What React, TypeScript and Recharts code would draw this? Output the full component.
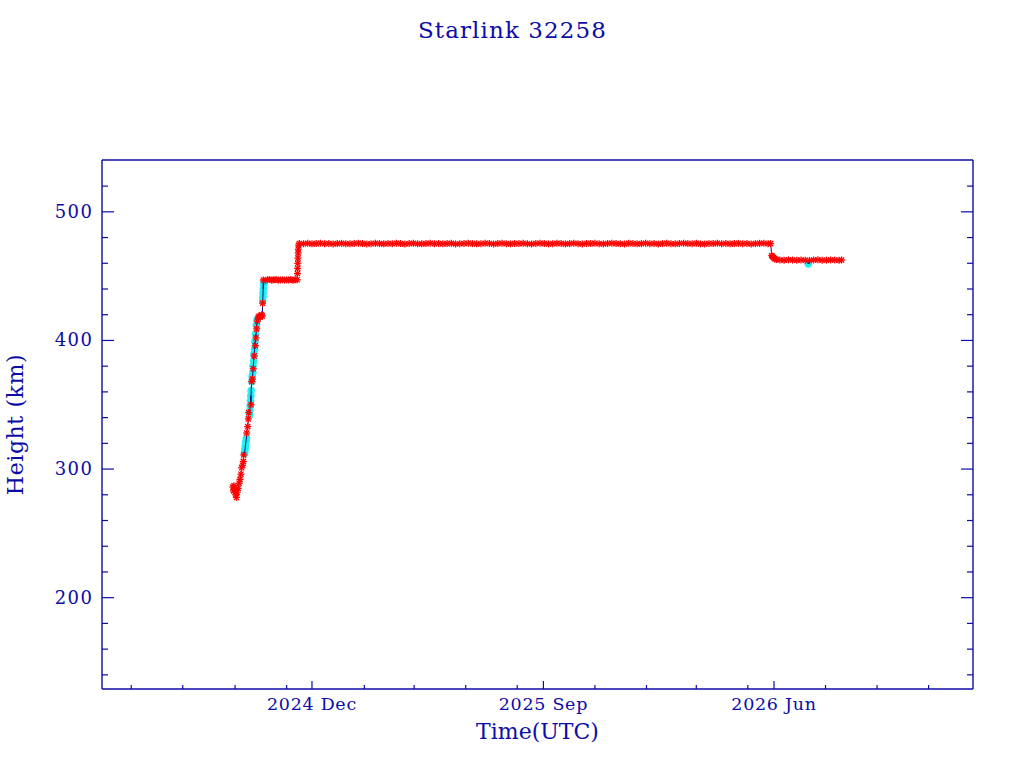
import { ScatterChart, Scatter, XAxis, YAxis } from 'recharts'

// days are counted from 2024-12-01 (UTC), heights in km
const raiseDay = [-93.6, -93.0, -92.4, -91.6, -90.4, -89.4, -88.6, -87.4, -86.3, -85.2, -84.1, -83.2, -82.2, -81.3, -80.8, -77.3, -76.1, -75.4, -75.0, -72.2, -71.4, -70.5, -69.5, -68.4, -67.1, -66.3, -65.5, -64.6, -63.6, -62.6, -61.6, -60.6, -59.6, -58.8, -58.4]
const raiseKm = [286, 283, 287, 284, 280, 278, 282, 285, 289, 292, 296, 301, 303, 306, 311, 328, 333, 339, 344, 350, 368, 370, 378, 388, 396, 402, 409, 415, 418, 419, 418, 419, 420, 419, 429]

const cyanDay = [-79.8, -79.6, -79.2, -78.8, -78.4, -78.0, -77.6, -73.8, -73.6, -73.2, -72.8, -72.4, -72.0, -71.0, -70.8, -70.1, -69.8, -69.0, -68.8, -68.0, -67.6, -66.8, -65.8, -65.2, -58.3, -58.1, -57.9, -57.6, -57.3, -57.0, 587.6]
const cyanKm = [312, 314, 316, 318, 320, 322, 324, 342, 345, 349, 353, 357, 361, 368, 372, 375, 380, 384, 389, 393, 399, 405, 412, 416, 431, 434, 437, 440, 443, 445, 459.5]

const shelfDay = [-57.6, -55.0, -52.5, -50.0, -47.5, -45.0, -42.5, -40.0, -37.5, -35.0, -32.5, -30.0, -27.5, -25.0, -22.5, -20.0, -17.6, -17.2, -17.0, -16.8, -16.6, -16.4, -16.2, -15.8]
const shelfKm = [447.0, 446.8, 447.2, 447.4, 446.9, 447.1, 447.3, 446.8, 447.0, 447.2, 446.9, 447.1, 447.0, 447.3, 446.8, 447.1, 447.2, 452, 456, 460, 464, 468, 471, 474]

const orbitDay = [
  -15, -10, -5, 0, 5, 10, 15, 20, 25, 30, 35, 40, 45, 50, 55, 60, 65, 70, 75, 80,
  85, 90, 95, 100, 105, 110, 115, 120, 125, 130, 135, 140, 145, 150, 155, 160, 165, 170, 175, 180,
  185, 190, 195, 200, 205, 210, 215, 220, 225, 230, 235, 240, 245, 250, 255, 260, 265, 270, 275, 280,
  285, 290, 295, 300, 305, 310, 315, 320, 325, 330, 335, 340, 345, 350, 355, 360, 365, 370, 375, 380,
  385, 390, 395, 400, 405, 410, 415, 420, 425, 430, 435, 440, 445, 450, 455, 460, 465, 470, 475, 480,
  485, 490, 495, 500, 505, 510, 515, 520, 525, 530, 535, 540, 543,
]
const orbitKm = [
  475.4, 475.2, 475.5, 475.1, 475.3, 475.6, 475.2, 475.4, 475.0, 475.3,
  475.5, 475.2, 475.1, 475.4, 475.6, 475.3, 475.0, 475.2, 475.5, 475.3,
  475.1, 475.4, 475.2, 475.6, 475.3, 475.0, 475.4, 475.5, 475.2, 475.1,
  475.3, 475.6, 475.2, 475.4, 475.1, 475.3, 475.5, 475.0, 475.2, 475.4,
  475.6, 475.3, 475.1, 475.2, 475.5, 475.4, 475.0, 475.3, 475.6, 475.2,
  475.1, 475.4, 475.3, 475.5, 475.2, 475.0, 475.4, 475.6, 475.3, 475.1,
  475.2, 475.5, 475.4, 475.1, 475.3, 475.6, 475.2, 475.0, 475.4, 475.3,
  475.5, 475.2, 475.1, 475.4, 475.6, 475.3, 475.2, 475.0, 475.5, 475.4,
  475.1, 475.3, 475.6, 475.2, 475.4, 475.0, 475.3, 475.5, 475.2, 475.1,
  475.4, 475.6, 475.3, 475.2, 475.5, 475.1, 475.0, 475.4, 475.3, 475.6,
  475.2, 475.4, 475.1, 475.3, 475.5, 475.2, 475.4, 475.0, 475.3, 475.5,
  475.6, 475.2, 475.3,
]

const lowerDay = [544.3, 545.2, 546.5, 548.0, 550.0, 554, 559, 564, 569, 574, 579, 584, 589, 594, 599, 604, 609, 614, 619, 624, 627]
const lowerKm = [466.0, 465.2, 464.3, 463.4, 462.9, 462.6, 462.4, 462.7, 462.5, 462.3, 462.6, 462.4, 462.2, 462.5, 462.7, 462.3, 462.4, 462.6, 462.5, 462.3, 462.6]

const xMajorDays = [0, 274, 547]
const xMajorLabels = ['2024 Dec', '2025 Sep', '2026 Jun']
const xMinorDays = [-214, -153, -91, -30, 62, 121, 182, 243, 335, 396, 455, 516, 608, 669, 730]
const yMajorKm = [200, 300, 400, 500]
const yMinorKm = [140, 160, 180, 220, 240, 260, 280, 320, 340, 360, 380, 420, 440, 460, 480, 520]

const X_DOMAIN = [-248.6, 782.6]
const Y_DOMAIN = [129, 540.3]
const BLUE = '#0c0ca6'
const FONT = '"DejaVu Serif", "Liberation Serif", serif'

const zip = (days: number[], kms: number[]) => days.map((d, i) => ({ d, h: kms[i] }))

const redPoints = [
  ...zip(raiseDay, raiseKm),
  ...zip(shelfDay, shelfKm),
  ...zip(orbitDay, orbitKm),
  ...zip(lowerDay, lowerKm),
]
const cyanPoints = zip(cyanDay, cyanKm)
const trackPoints = [...redPoints, ...cyanPoints].sort((a, b) => a.d - b.d)
const xTicks = [...xMajorDays, ...xMinorDays].sort((a, b) => a - b)
const yTicks = [...yMajorKm, ...yMinorKm].sort((a, b) => a - b)

function Star({ cx, cy, color, width, r = 3.5 }: any) {
  if (cx == null || cy == null) return null
  const k = r * 0.74
  return (
    <g stroke={color} strokeWidth={width}>
      <line x1={cx - r} y1={cy} x2={cx + r} y2={cy} />
      <line x1={cx} y1={cy - r} x2={cx} y2={cy + r} />
      <line x1={cx - k} y1={cy - k} x2={cx + k} y2={cy + k} />
      <line x1={cx - k} y1={cy + k} x2={cx + k} y2={cy - k} />
    </g>
  )
}

function BottomTick({ x, y, payload }: any) {
  const i = xMajorDays.indexOf(payload.value)
  const len = i >= 0 ? 8 : 4
  return (
    <g>
      <line x1={x} y1={y} x2={x} y2={y - len} stroke={BLUE} strokeWidth={1.2} />
      {i >= 0 && (
        <text x={x} y={y + 21} textAnchor="middle" fill={BLUE} fontSize={17.5} fontFamily={FONT} letterSpacing={0.7}>
          {xMajorLabels[i]}
        </text>
      )}
    </g>
  )
}

function TopTick({ x, y, payload }: any) {
  const len = xMajorDays.includes(payload.value) ? 8 : 4
  return <line x1={x} y1={y} x2={x} y2={y + len} stroke={BLUE} strokeWidth={1.2} />
}

function LeftTick({ x, y, payload }: any) {
  const major = yMajorKm.includes(payload.value)
  return (
    <g>
      <line x1={x} y1={y} x2={x + (major ? 12 : 6)} y2={y} stroke={BLUE} strokeWidth={1.2} />
      {major && (
        <text x={x - 8.5} y={y + 6} textAnchor="end" fill={BLUE} fontSize={18} fontFamily={FONT} letterSpacing={1.5}>
          {payload.value}
        </text>
      )}
    </g>
  )
}

function RightTick({ x, y, payload }: any) {
  const major = yMajorKm.includes(payload.value)
  return <line x1={x} y1={y} x2={x - (major ? 12 : 6)} y2={y} stroke={BLUE} strokeWidth={1.2} />
}

export default function App() {
  const axisLine = { stroke: BLUE, strokeWidth: 1.4 }
  return (
    <div style={{ position: 'absolute', left: 0, top: 0, width: 1024, height: 768, background: '#fff' }}>
      <ScatterChart width={1024} height={768} margin={{ top: 150, right: 41, bottom: 49, left: 42 }}>
        <XAxis
          xAxisId="b"
          dataKey="d"
          type="number"
          orientation="bottom"
          height={30}
          domain={X_DOMAIN}
          allowDataOverflow
          ticks={xTicks}
          interval={0}
          tickSize={0}
          tickMargin={0}
          tickLine={false}
          axisLine={axisLine}
          tick={(p: any) => <BottomTick {...p} />}
        />
        <XAxis
          xAxisId="t"
          type="number"
          orientation="top"
          height={10}
          domain={X_DOMAIN}
          allowDataOverflow
          ticks={xTicks}
          interval={0}
          tickSize={0}
          tickMargin={0}
          tickLine={false}
          axisLine={axisLine}
          tick={(p: any) => <TopTick {...p} />}
        />
        <YAxis
          yAxisId="l"
          dataKey="h"
          type="number"
          orientation="left"
          width={60}
          domain={Y_DOMAIN}
          allowDataOverflow
          ticks={yTicks}
          interval={0}
          tickSize={0}
          tickMargin={0}
          tickLine={false}
          axisLine={axisLine}
          tick={(p: any) => <LeftTick {...p} />}
        />
        <YAxis
          yAxisId="r"
          type="number"
          orientation="right"
          width={10}
          domain={Y_DOMAIN}
          allowDataOverflow
          ticks={yTicks}
          interval={0}
          tickSize={0}
          tickMargin={0}
          tickLine={false}
          axisLine={axisLine}
          tick={(p: any) => <RightTick {...p} />}
        />
        <Scatter
          xAxisId="b"
          yAxisId="l"
          data={cyanPoints}
          isAnimationActive={false}
          shape={(p: any) => <Star cx={p.cx} cy={p.cy} color="#22eeee" width={2.4} r={3.8} />}
        />
        <Scatter
          xAxisId="b"
          yAxisId="l"
          data={trackPoints}
          isAnimationActive={false}
          line={{ stroke: '#101080', strokeWidth: 1 }}
          lineType="joint"
          shape={() => <g />}
        />
        <Scatter
          xAxisId="b"
          yAxisId="l"
          data={redPoints}
          isAnimationActive={false}
          shape={(p: any) => <Star cx={p.cx} cy={p.cy} color="#ff0000" width={1.3} />}
        />
      </ScatterChart>
      <svg width={1024} height={768} style={{ position: 'absolute', left: 0, top: 0, pointerEvents: 'none' }}>
        <text x={512.5} y={38} textAnchor="middle" fill={BLUE} fontSize={23} fontFamily={FONT} letterSpacing={1.1}>
          Starlink 32258
        </text>
        <text x={537.5} y={739} textAnchor="middle" fill={BLUE} fontSize={22} fontFamily={FONT}>
          Time(UTC)
        </text>
        <text
          x={0}
          y={0}
          transform="translate(23 424.5) rotate(-90)"
          textAnchor="middle"
          fill={BLUE}
          fontSize={22}
          fontFamily={FONT}
          letterSpacing={0.6}
        >
          Height (km)
        </text>
      </svg>
    </div>
  )
}
